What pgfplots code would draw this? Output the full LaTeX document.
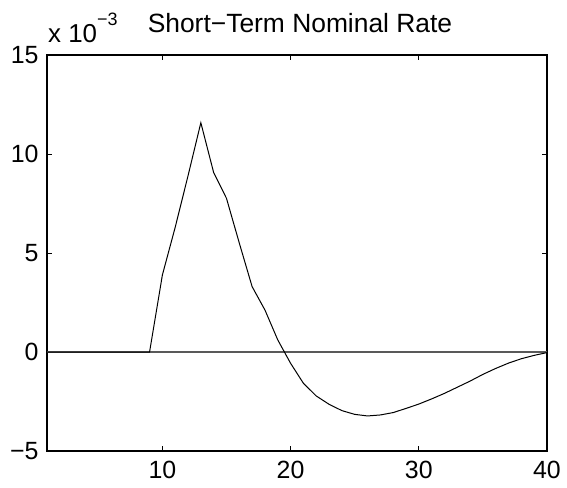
\documentclass[border=0pt]{standalone}
\usepackage{pgfplots}
\pgfplotsset{compat=1.18}
\usepackage{fontspec}
\setmainfont{Liberation Sans}

% impulse response of the short-term nominal rate (in units of 1e-3)
\pgfplotstableread{
t   r
1   0
2   0
3   0
4   0
5   0
6   0
7   0
8   0
9   0
10  3.89
11  6.30
12  8.90
13  11.58
14  9.06
15  7.76
16  5.50
17  3.30
18  2.12
19  0.61
20  -0.57
21  -1.58
22  -2.22
23  -2.64
24  -2.96
25  -3.15
26  -3.23
27  -3.18
28  -3.06
29  -2.85
30  -2.63
31  -2.37
32  -2.09
33  -1.78
34  -1.47
35  -1.13
36  -0.83
37  -0.56
38  -0.34
39  -0.17
40  -0.03
}\ratetable

\begin{document}
\begin{tikzpicture}
\begin{axis}[
  scale only axis,
  width=500bp, height=396bp,
  xmin=1, xmax=40, ymin=-5, ymax=15,
  xtick={10,20,30,40},
  ytick={-5,0,5,10,15},
  yticklabels={−5,0,5,10,15},
  xticklabels={10,20,30,40},
  tick align=inside,
  tickpos=both,
  major tick length=5bp,
  axis line style={line width=1.3bp},
  every tick/.style={black, line width=0.9bp},
  tick label style={font=\fontsize{25}{30}\selectfont},
  xticklabel style={anchor=north, yshift=-7bp},
  yticklabel style={anchor=east, xshift=-5bp},
  clip=false,
]
\addplot[color=black!65, line width=1.6bp, forget plot] coordinates {(1,0) (40,0)};
\addplot[black, line width=1bp] table[x=t, y=r] {\ratetable};
\coordinate (ll) at (rel axis cs:0,0);
\coordinate (ur) at (rel axis cs:1,1);
\node[anchor=base west, inner sep=0pt, font=\fontsize{26}{30}\selectfont]
  at ([xshift=1bp, yshift=12bp]rel axis cs:0,1)
  {x 10\raisebox{17bp}{\fontsize{18}{18}\selectfont −3}};
\node[anchor=base, inner sep=0pt, font=\fontsize{26.5}{30}\selectfont]
  at ([xshift=3bp, yshift=22bp]rel axis cs:0.5,1)
  {Short−Term Nominal Rate};
\end{axis}
\pgfresetboundingbox
\path ([shift={(-47bp,-37bp)}]ll) rectangle ([shift={(20bp,55bp)}]ur);
\end{tikzpicture}
\end{document}
